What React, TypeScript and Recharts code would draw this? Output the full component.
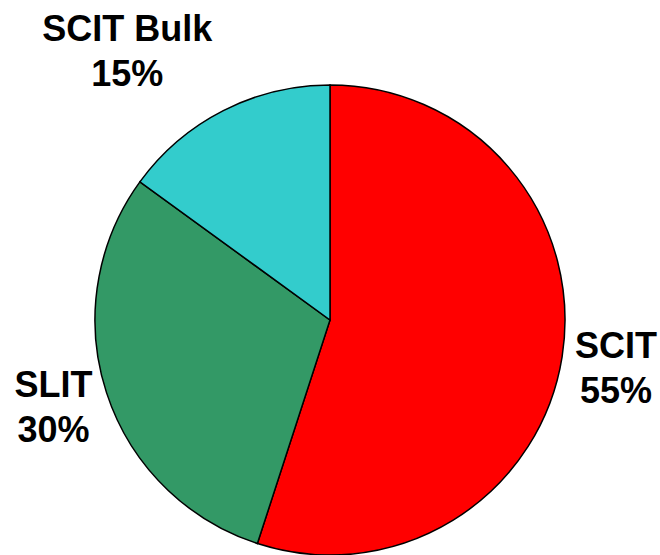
import { Cell, Pie, PieChart } from "recharts";

const categories = ["SCIT", "SLIT", "SCIT Bulk"];
const shares = [55, 30, 15];
const colors = ["#FF0000", "#339966", "#33CCCC"];

// label placement per slice: distance from centre and angle tweak
const labelRadius = [290, 290, 337];
const labelAngleShift = [-0.5, -0.5, 10];

const data = categories.map((name, i) => ({ name, value: shares[i] }));

const RADIAN = Math.PI / 180;

function renderLabel(props: any) {
  const { cx, cy, midAngle, index } = props;
  const angle = (midAngle + labelAngleShift[index]) * RADIAN;
  const x = cx + labelRadius[index] * Math.cos(-angle);
  const y = cy + labelRadius[index] * Math.sin(-angle);
  return (
    <text
      x={x}
      y={y}
      textAnchor="middle"
      fill="#000"
      fontFamily="'Liberation Sans', Arial, sans-serif"
      fontWeight="bold"
      fontSize={36}
    >
      <tspan x={x} y={y - 10}>
        {categories[index]}
      </tspan>
      <tspan x={x} y={y + 35}>
        {shares[index]}%
      </tspan>
    </text>
  );
}

export default function App() {
  return (
    <div style={{ position: "absolute", left: 0, top: 0 }}>
      <PieChart
        width={660}
        height={555}
        margin={{ top: 0, right: 0, bottom: 0, left: 0 }}
      >
        <Pie
          data={data}
          dataKey="value"
          nameKey="name"
          cx={330}
          cy={320}
          outerRadius={235}
          startAngle={90}
          endAngle={-270}
          stroke="#000"
          strokeWidth={1.5}
          label={renderLabel}
          labelLine={false}
          isAnimationActive={false}
        >
          {data.map((d, i) => (
            <Cell key={d.name} fill={colors[i]} />
          ))}
        </Pie>
      </PieChart>
    </div>
  );
}
